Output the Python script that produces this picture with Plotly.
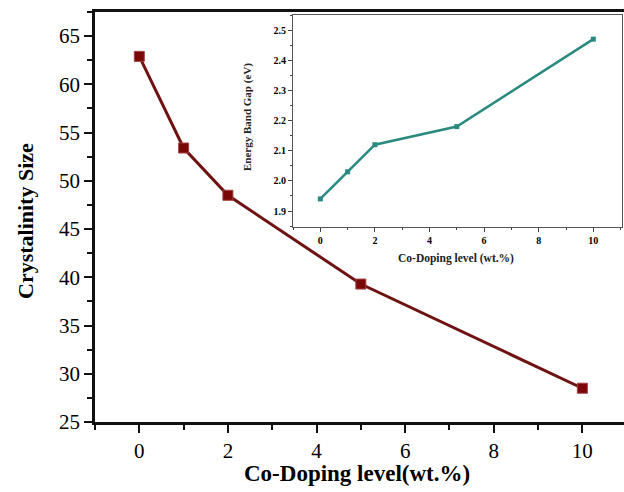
import plotly.graph_objects as go

# Data
doping = [0, 1, 2, 5, 10]
crystal_size = [62.9, 53.4, 48.5, 39.3, 28.5]
band_gap = [1.94, 2.03, 2.12, 2.18, 2.47]

W, H = 624, 492
L, R, T, B = 95, 0, 12, 70
pw, ph = W - L - R, H - T - B

def px(x):
    return (x - L) / pw

def py(y):
    return (H - B - y) / ph

fig = go.Figure()
fig.add_trace(go.Scatter(
    x=doping, y=crystal_size, mode="lines+markers",
    line=dict(color="#6e1212", width=3),
    marker=dict(symbol="square", size=10, color="#7a0808",
                line=dict(color="#a04040", width=1)),
    xaxis="x", yaxis="y", showlegend=False))
fig.add_trace(go.Scatter(
    x=doping, y=band_gap, mode="lines+markers",
    line=dict(color="#2a8a80", width=2.5),
    marker=dict(symbol="square", size=5, color="#2a8a80"),
    xaxis="x2", yaxis="y2", showlegend=False))

serif = "Liberation Serif, Times New Roman, serif"

fig.update_layout(
    width=W, height=H,
    margin=dict(l=L, r=R, t=T, b=B),
    paper_bgcolor="white", plot_bgcolor="white",
    font=dict(family=serif, color="black"),
    xaxis=dict(range=[-1, 10.94], tick0=0, dtick=2, ticks="outside",
               ticklen=8, tickwidth=2, tickcolor="#111",
               showline=True, linecolor="#111", linewidth=2.5, mirror=True,
               showgrid=False, zeroline=False,
               tickfont=dict(size=21, family=serif),
               minor=dict(dtick=1, ticks="outside", ticklen=5, tickwidth=2,
                          tickcolor="#111", showgrid=False)),
    yaxis=dict(range=[25, 67.5], tick0=25, dtick=5, ticks="outside",
               ticklen=8, tickwidth=2, tickcolor="#111",
               showline=True, linecolor="#111", linewidth=2.5,
               showgrid=False, zeroline=False,
               tickfont=dict(size=21, family=serif),
               minor=dict(dtick=2.5, ticks="outside", ticklen=5, tickwidth=2,
                          tickcolor="#111", showgrid=False)),
    xaxis2=dict(domain=[px(293), px(622)], anchor="y2",
                range=[-1, 11.05], tick0=0, dtick=2, ticks="outside",
                ticklen=4, tickwidth=1, tickcolor="#444",
                showline=True, linecolor="#555", linewidth=1, mirror=True,
                showgrid=False, zeroline=False,
                tickfont=dict(size=10, family=serif, weight="bold"),
                minor=dict(dtick=1, ticks="outside", ticklen=2, tickwidth=1,
                           tickcolor="#444", showgrid=False)),
    yaxis2=dict(domain=[py(227), py(15)], anchor="x2",
                range=[1.847, 2.55], tick0=1.9, dtick=0.1, ticks="outside",
                tickformat=".1f",
                ticklen=4, tickwidth=1, tickcolor="#444",
                showline=True, linecolor="#555", linewidth=1, mirror=True,
                showgrid=False, zeroline=False,
                tickfont=dict(size=10, family=serif, weight="bold"),
                minor=dict(dtick=0.05, ticks="outside", ticklen=2, tickwidth=1,
                           tickcolor="#444", showgrid=False)),
    annotations=[
        dict(text="<b>Co-Doping level(wt.%)</b>", xref="paper", yref="paper",
             x=px(357), y=py(473), showarrow=False,
             font=dict(size=23, family=serif, color="black"),
             xanchor="center", yanchor="middle"),
        dict(text="<b>Crystalinity Size</b>", xref="paper", yref="paper",
             x=px(25), y=py(221), showarrow=False, textangle=-90,
             font=dict(size=22, family=serif, color="black"),
             xanchor="center", yanchor="middle"),
        dict(text="<b>Co-Doping level (wt.%)</b>", xref="paper", yref="paper",
             x=px(456), y=py(258), showarrow=False,
             font=dict(size=11.5, family=serif, color="#222"),
             xanchor="center", yanchor="middle"),
        dict(text="<b>Energy Band Gap (eV)</b>", xref="paper", yref="paper",
             x=px(247), y=py(117), showarrow=False, textangle=-90,
             font=dict(size=11, family=serif, color="#222"),
             xanchor="center", yanchor="middle"),
    ],
)

fig.write_html("out.html")
